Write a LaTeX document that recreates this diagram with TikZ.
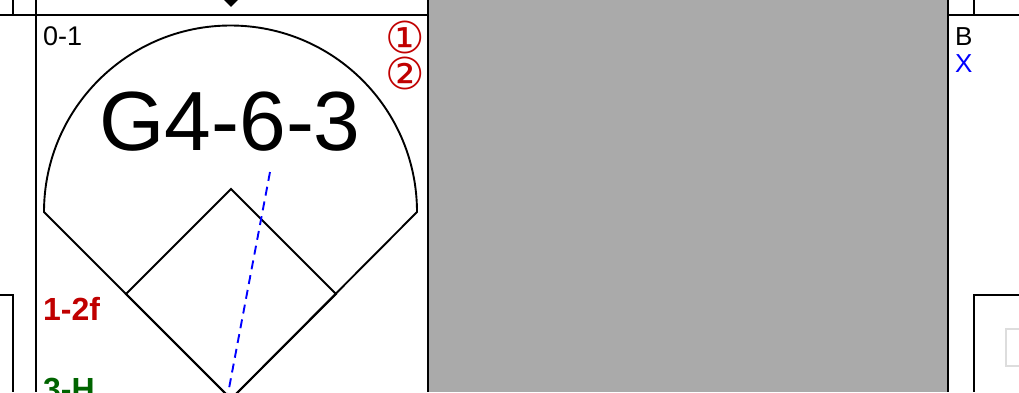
\documentclass[tikz,border=0pt]{standalone}
\usepackage{fontspec}
\setmainfont{Liberation Sans}
\newfontfamily\symfont{DejaVu Sans}
\usetikzlibrary{shapes.geometric, positioning}
\definecolor{outred}{RGB}{192, 0, 0}
\definecolor{rungreen}{RGB}{0, 100, 0}
\definecolor{colgray}{RGB}{170, 170, 170}
\definecolor{ghost}{RGB}{221, 221, 221}

\begin{document}
\begin{tikzpicture}[
          x=1pt, y=-1pt,
          grid/.style={line width=2.2pt},
          field/.style={line width=1.9pt},
          hit/.style={line width=1.9pt, color=blue, dash pattern=on 9pt off 6pt},
          lbl/.style={inner sep=0pt, anchor=base west, font=\fontsize{26}{26}\selectfont},
          circ/.style={inner sep=0pt, color=outred, font=\symfont\fontsize{44}{44}\selectfont},
        ]
        \useasboundingbox (0,0) rectangle (1019,392);
        \clip (0,0) rectangle (1019,392);
        % grey column and cell borders
        \fill[colgray] (428,0) rectangle (948,392);
        \draw[grid] (428,0) -- (428,392);
        \draw[grid] (948,0) -- (948,392);
        \draw[grid] (0,15) -- (428,15);
        \draw[grid] (948,15) -- (1019,15);
        \draw[grid] (13,0) -- (13,15);
        \draw[grid] (36,0) -- (36,392);
        \draw[grid] (974,0) -- (974,15);
        \draw[grid] (0,295) -- (13,295) -- (13,392);
        \draw[grid] (1019,295) -- (974,295) -- (974,392);
        \draw[ghost, line width=1.5pt] (1006,329) rectangle (1030,366);
        \node[diamond, fill, inner sep=0pt, minimum size=17pt] (marker) at (231,-1.5) {};
        % field
        \coordinate (home) at (231,399);
        \coordinate (first) at (336,294);
        \coordinate (second) at (231,189);
        \coordinate (third) at (126,294);
        \coordinate (ball) at (270,172);
        \coordinate (lfline) at (44,212);
        \draw[field] (lfline) arc[start angle=180, end angle=0, radius=186.5pt] -- (home) -- cycle;
        \draw[field] (second) -- (first) -- (home) -- (third) -- cycle;
        \draw[hit] (ball) -- (227,399);
        % texts
        \node[lbl, font=\fontsize{27}{27}\selectfont] (count) at (43,45) {0-1};
        \node[inner sep=0pt, anchor=base, font=\fontsize{84}{84}\selectfont] (play) at (230,150) {G4-6-3};
        \node[circ] (one) at (405,37) {①};
        \node[circ] (two) at (405,73) {②};
        \node[lbl, font=\bfseries\fontsize{32}{32}\selectfont, color=outred] (outs) at (43,320) {1-2f};
        \node[lbl, font=\bfseries\fontsize{32}{32}\selectfont, color=rungreen] (run) at (43,400) {3-H};
        \node[lbl] (base) at (955,45) {B};
        \node[lbl, color=blue] (mark) at (955,72) {X};
      \end{tikzpicture}
\end{document}
